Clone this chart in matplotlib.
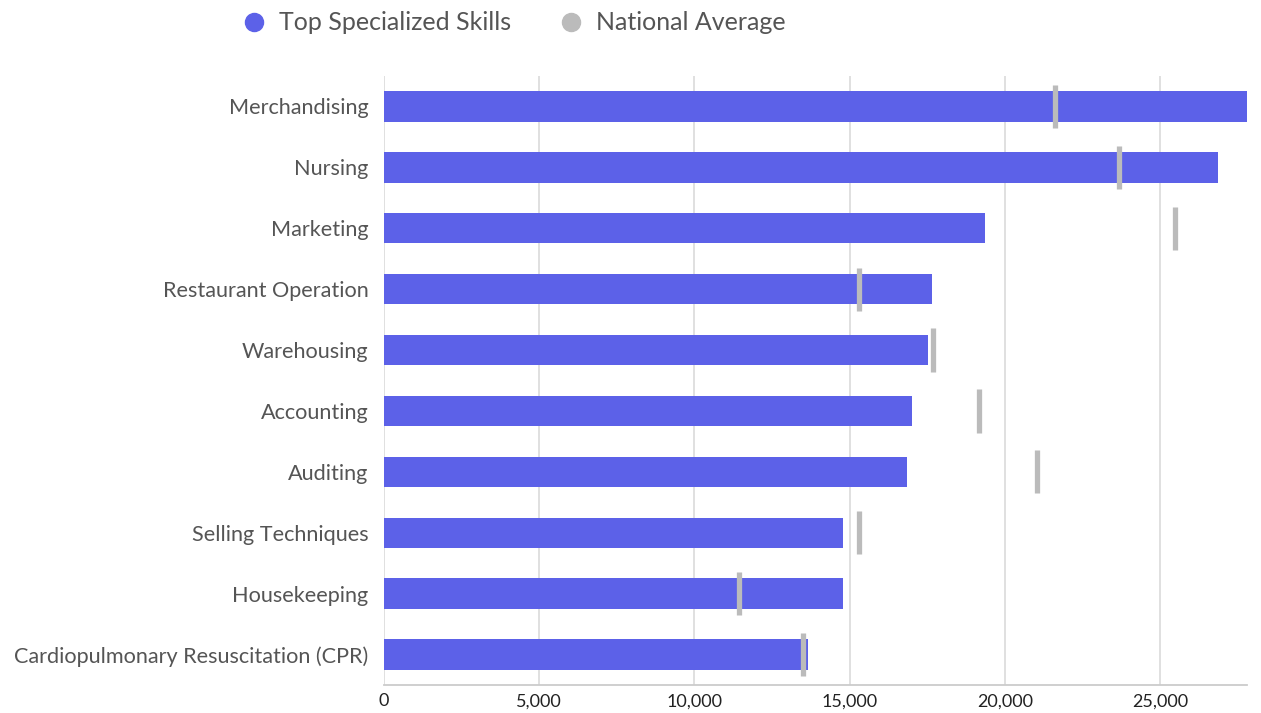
import matplotlib
matplotlib.use("Agg")
import matplotlib.pyplot as plt
from matplotlib.lines import Line2D
from matplotlib.ticker import FuncFormatter

skills = ["Merchandising", "Nursing", "Marketing", "Restaurant Operation",
          "Warehousing", "Accounting", "Auditing", "Selling Techniques",
          "Housekeeping", "Cardiopulmonary Resuscitation (CPR)"]
top_skills = [27800, 26870, 19360, 17650, 17530, 17010, 16850, 14790, 14790, 13660]
national_avg = [21620, 23680, 25480, 15300, 17690, 19170, 21040, 15300, 11440, 13500]
xticks = [0, 5000, 10000, 15000, 20000, 25000]

BAR = "#5c61e8"
AVG = "#bbbbbb"
TXT = "#555555"

plt.rcParams['font.family'] = ['Lato', 'DejaVu Sans']

fig = plt.figure(figsize=(12.61, 7.13), dpi=100)
ax = fig.add_axes([384 / 1261, 1 - 685 / 713, (1247 - 384) / 1261, (685 - 76) / 713])

y = list(range(len(skills)))
ax.barh(y, top_skills, height=0.5, color=BAR, zorder=3)
ax.vlines(national_avg, [v - 0.355 for v in y], [v + 0.355 for v in y],
          color=AVG, lw=3.8, zorder=4)

ax.set_ylim(len(skills) - 0.5, -0.5)
ax.set_xlim(0, max(top_skills))
ax.set_yticks(y)
ax.set_yticklabels(skills, fontsize=15.6, color=TXT)
ax.set_xticks(xticks)
ax.xaxis.set_major_formatter(FuncFormatter(lambda v, p: f"{int(v):,}"))
ax.tick_params(axis='x', labelsize=13, colors="#222222", length=0, pad=6)
ax.tick_params(axis='y', length=0, pad=11)
ax.grid(axis='x', color="#dddddd", lw=1.3, zorder=0)
for s in ("top", "right", "left"):
    ax.spines[s].set_visible(False)
ax.spines["bottom"].set_color("#cccccc")
ax.spines["bottom"].set_linewidth(1.3)

handles = [Line2D([], [], ls='none', marker='o', ms=13, color=BAR),
           Line2D([], [], ls='none', marker='o', ms=13, color=AVG)]
leg = fig.legend(handles, ["Top Specialized Skills", "National Average"],
                 loc="center", bbox_to_anchor=(507 / 1261, 1 - 23 / 713), ncol=2,
                 frameon=False, fontsize=18, handletextpad=0.0, columnspacing=1.4)
for t in leg.get_texts():
    t.set_color(TXT)

fig.savefig("out.png", dpi=100)
